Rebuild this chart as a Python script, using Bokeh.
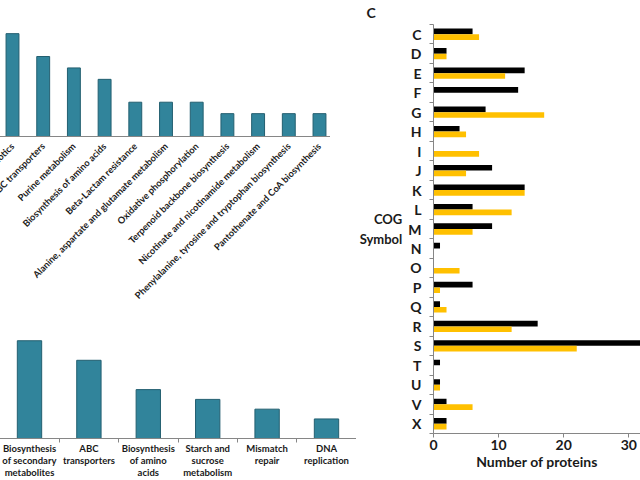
from math import pi
from bokeh.plotting import figure
from bokeh.models import Range1d, FixedTicker, ColumnDataSource, Title
from bokeh.transform import dodge
from bokeh.layouts import row, column
from bokeh.embed import file_html
from bokeh.resources import INLINE

# ---------------- data ----------------
top_pathways = [
    "Biosynthesis of antibiotics",
    "ABC transporters",
    "Purine metabolism",
    "Biosynthesis of amino acids",
    "Beta-Lactam resistance",
    "Alanine, aspartate and glutamate metabolism",
    "Oxidative phosphorylation",
    "Terpenoid backbone biosynthesis",
    "Nicotinate and nicotinamide metabolism",
    "Phenylalanine, tyrosine and tryptophan biosynthesis",
    "Pantothenate and CoA biosynthesis",
]
top_counts = [9, 7, 6, 5, 3, 3, 3, 2, 2, 2, 2]

bottom_pathways = [
    "Biosynthesis\nof secondary\nmetabolites",
    "ABC\ntransporters",
    "Biosynthesis\nof amino\nacids",
    "Starch and\nsucrose\nmetabolism",
    "Mismatch\nrepair",
    "DNA\nreplication",
]
bottom_counts = [10, 8, 5, 4, 3, 2]

cog_symbols = ["C", "D", "E", "F", "G", "H", "I", "J", "K", "L", "M",
               "N", "O", "P", "Q", "R", "S", "T", "U", "V", "X"]
cog_black = [6, 2, 14, 13, 8, 4, 0, 9, 14, 6, 9, 1, 0, 6, 1, 16, 33, 1, 1, 2, 2]
cog_yellow = [7, 2, 11, 0, 17, 5, 7, 5, 14, 12, 6, 0, 4, 1, 2, 12, 22, 0, 1, 6, 2]
x_ticks_right = [0, 10, 20, 30]

# ---------------- style ----------------
TEAL = "#31849B"
EDGE = "#235F70"
GOLD = "#FFC000"
AXIS = "#868686"
FONT = "Lato"
TXT = "#1a1a1a"
SHIFT = 150  # part of the left panels that lies beyond the left edge of the crop


def clean(p):
    p.xgrid.visible = False
    p.ygrid.visible = False
    p.outline_line_color = None
    p.background_fill_color = "white"
    p.border_fill_color = "white"


# ---------------- top-left chart ----------------
p1 = figure(width=SHIFT + 330, height=307, output_backend="svg", toolbar_location=None,
            x_range=Range1d((-SHIFT - 12) / 30.7, (330 - 12) / 30.7),
            y_range=Range1d(0, 11.9),
            min_border_left=0, min_border_right=0, min_border_top=0,
            min_border_bottom=170)
clean(p1)
p1.vbar(x=list(range(len(top_counts))), top=top_counts, width=0.42,
        fill_color=TEAL, line_color=EDGE, line_width=1)
p1.yaxis.visible = False
ax = p1.xaxis[0]
ax.ticker = FixedTicker(ticks=list(range(len(top_pathways))))
ax.major_label_overrides = {i: s for i, s in enumerate(top_pathways)}
ax.major_label_orientation = pi / 4
ax.major_tick_line_color = None
ax.minor_tick_line_color = None
ax.major_tick_out = 0
ax.major_label_standoff = 8
ax.axis_line_color = AXIS
ax.major_label_text_font = FONT
ax.major_label_text_font_size = "9.3px"
ax.major_label_text_font_style = "bold"
ax.major_label_text_color = TXT

# ---------------- bottom-left chart ----------------
p2 = figure(width=SHIFT + 356, height=173, output_backend="svg", toolbar_location=None,
            x_range=Range1d((-SHIFT - 29) / 59.4, (356 - 29) / 59.4),
            y_range=Range1d(0, 13.4),
            min_border_left=0, min_border_right=0, min_border_top=0,
            min_border_bottom=40)
clean(p2)
p2.vbar(x=list(range(len(bottom_counts))), top=bottom_counts, width=0.41,
        fill_color=TEAL, line_color=EDGE, line_width=1)
p2.yaxis.visible = False
ax = p2.xaxis[0]
ax.ticker = FixedTicker(ticks=list(range(len(bottom_pathways))),
                        minor_ticks=[i - 0.5 for i in range(len(bottom_pathways) + 1)])
ax.major_label_overrides = {i: s for i, s in enumerate(bottom_pathways)}
ax.major_tick_line_color = None
ax.major_tick_out = 0
ax.minor_tick_line_color = AXIS
ax.minor_tick_out = 4
ax.minor_tick_in = 0
ax.major_label_standoff = 0
ax.axis_line_color = AXIS
ax.major_label_text_font = FONT
ax.major_label_text_font_size = "9.5px"
ax.major_label_text_font_style = "bold"
ax.major_label_text_color = TXT
ax.major_label_text_line_height = 1.1

# ---------------- right chart ----------------
src = ColumnDataSource(dict(idx=list(range(len(cog_symbols))),
                            black=cog_black, yellow=cog_yellow))
p3 = figure(width=284, height=480, output_backend="svg", toolbar_location=None,
            x_range=Range1d(0, (640 - 434.3) / 6.47),
            y_range=Range1d(len(cog_symbols) - 0.5, -0.5),
            min_border_left=76, min_border_right=0, min_border_top=24,
            min_border_bottom=47)
clean(p3)
p3.title = Title(text="C", align="left", offset=-67, standoff=4,
                 text_font=FONT, text_font_size="14px", text_font_style="bold",
                 text_color=TXT, vertical_align="top")
p3.hbar(y=dodge("idx", -0.145, range=p3.y_range), right="black", height=0.29,
        left=0, source=src, fill_color="black", line_color=None)
p3.hbar(y=dodge("idx", 0.145, range=p3.y_range), right="yellow", height=0.29,
        left=0, source=src, fill_color=GOLD, line_color=None)

ya = p3.yaxis[0]
ya.ticker = FixedTicker(ticks=list(range(len(cog_symbols))),
                        minor_ticks=[i - 0.5 for i in range(len(cog_symbols) + 1)])
ya.major_label_overrides = {i: s for i, s in enumerate(cog_symbols)}
ya.major_tick_line_color = None
ya.major_tick_out = 0
ya.minor_tick_line_color = AXIS
ya.minor_tick_out = 4
ya.minor_tick_in = 0
ya.major_label_standoff = 8
ya.axis_line_color = AXIS
ya.major_label_text_font = FONT
ya.major_label_text_font_size = "14px"
ya.major_label_text_font_style = "bold"
ya.major_label_text_color = TXT
ya.axis_label = "COG\nSymbol"
ya.axis_label_orientation = "horizontal"
ya.axis_label_standoff = 3
ya.axis_label_text_font = FONT
ya.axis_label_text_font_size = "13px"
ya.axis_label_text_font_style = "bold"
ya.axis_label_text_color = TXT

xa = p3.xaxis[0]
xa.ticker = FixedTicker(ticks=x_ticks_right)
xa.major_tick_line_color = AXIS
xa.major_tick_out = 4
xa.major_tick_in = 0
xa.minor_tick_line_color = None
xa.major_label_standoff = 2
xa.axis_line_color = AXIS
xa.major_label_text_font = FONT
xa.major_label_text_font_size = "14px"
xa.major_label_text_font_style = "bold"
xa.major_label_text_color = TXT
xa.axis_label = "Number of proteins"
xa.axis_label_standoff = 0
xa.axis_label_text_font = FONT
xa.axis_label_text_font_size = "14px"
xa.axis_label_text_font_style = "bold"
xa.axis_label_text_color = TXT

layout = row(column(p1, p2, spacing=0), p3, spacing=0,
             styles={"margin-left": "-%dpx" % SHIFT})
open("out.html", "w").write(file_html(layout, INLINE))
